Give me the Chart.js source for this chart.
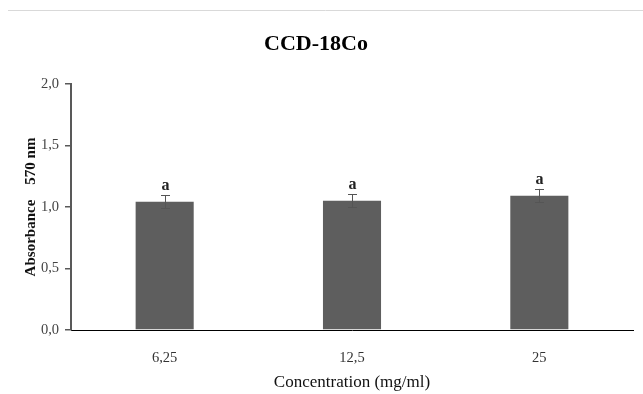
<!DOCTYPE html>
<html><head><meta charset="utf-8">
<script src="https://cdn.jsdelivr.net/npm/chart.js@4"></script>
<style>html,body{margin:0;padding:0;background:#fff}#w{width:643px;height:394px;position:relative}</style>
</head><body><div id="w"><canvas id="c"></canvas></div>
<script>
const categories = ["6,25", "12,5", "25"];
const absorbance = [1.043, 1.051, 1.092];
const errors = [0.053, 0.053, 0.055];
const letters = ["a", "a", "a"];
const yTicks = ["0,0", "0,5", "1,0", "1,5", "2,0"];

const serif = "'Liberation Serif', 'Times New Roman', serif";

const extras = {
  id: 'extras',
  afterDatasetsDraw(chart) {
    const ctx = chart.ctx, x = chart.scales.x, y = chart.scales.y;
    ctx.save();
    ctx.strokeStyle = '#d9d9d9'; ctx.lineWidth = 1;
    ctx.beginPath(); ctx.moveTo(8, 10.5); ctx.lineTo(643, 10.5); ctx.stroke();
    ctx.strokeStyle = '#555'; ctx.lineWidth = 1;
    absorbance.forEach((v, i) => {
      const cx = Math.round(x.getPixelForValue(i)) + 0.5;
      const yt = y.getPixelForValue(v + errors[i]);
      const yb = y.getPixelForValue(v - errors[i]);
      ctx.beginPath();
      ctx.moveTo(cx, yt); ctx.lineTo(cx, yb);
      ctx.moveTo(cx - 4.5, Math.round(yt) + 0.5); ctx.lineTo(cx + 4.5, Math.round(yt) + 0.5);
      ctx.moveTo(cx - 4.5, Math.round(yb) + 0.5); ctx.lineTo(cx + 4.5, Math.round(yb) + 0.5);
      ctx.stroke();
      ctx.fillStyle = '#222';
      ctx.font = 'bold 16px ' + serif;
      ctx.textAlign = 'center'; ctx.textBaseline = 'alphabetic';
      ctx.fillText(letters[i], cx, yt - 5);
    });
    ctx.fillStyle = '#000';
    ctx.font = 'bold 22px ' + serif;
    ctx.textAlign = 'center'; ctx.textBaseline = 'middle';
    ctx.fillText('CCD-18Co', 316, 44);
    ctx.font = '17px ' + serif;
    ctx.fillStyle = '#111';
    ctx.fillText('Concentration (mg/ml)', 352, 383);
    ctx.translate(31, 207);
    ctx.rotate(-Math.PI / 2);
    ctx.font = 'bold 15px ' + serif;
    ctx.fillText('Absorbance    570 nm', 0, 0);
    ctx.restore();
  }
};

new Chart(document.getElementById('c'), {
  type: 'bar',
  data: {
    labels: categories,
    datasets: [{
      data: absorbance,
      backgroundColor: '#5e5e5e',
      borderWidth: 0,
      categoryPercentage: 1.0,
      barPercentage: 0.31
    }]
  },
  options: {
    responsive: true, maintainAspectRatio: false, animation: false,
    devicePixelRatio: 1,
    layout: { padding: { top: 84, right: 10, left: 0, bottom: 0 } },
    plugins: { legend: { display: false }, title: { display: false }, tooltip: { enabled: false } },
    scales: {
      x: {
        grid: { display: false, drawTicks: false },
        border: { color: '#000', width: 1 },
        ticks: { color: '#333', font: { family: serif, size: 14.5 }, padding: 19 },
        afterFit(s) { s.height = 64; }
      },
      y: {
        min: 0, max: 2,
        grid: { drawOnChartArea: false, drawTicks: true, tickLength: 6, color: '#595959', lineWidth: 1.5 },
        border: { color: '#595959', width: 2 },
        ticks: {
          stepSize: 0.5, color: '#444', font: { family: serif, size: 14.5 }, padding: 6,
          callback: (v, i) => yTicks[i]
        },
        afterFit(s) { s.width = 71; }
      }
    }
  },
  plugins: [extras]
});
</script></body></html>
